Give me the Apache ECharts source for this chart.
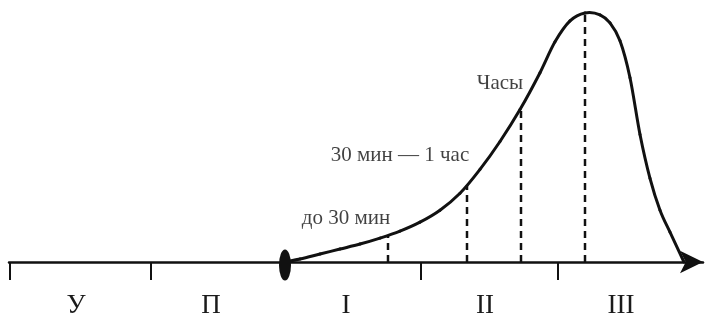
<!DOCTYPE html>
<html>
<head>
<meta charset="utf-8">
<script src="https://cdn.jsdelivr.net/npm/echarts@6/dist/echarts.min.js"></script>
<style>
  html, body { margin: 0; padding: 0; background: #fff; }
  #chart { width: 714px; height: 319px; }
</style>
</head>
<body>
<div id="chart"></div>
<script>
// кривая: положение на оси времени и высота над осью
const curveX = [285, 300, 320, 340, 360, 380, 400, 420, 440, 460, 480, 500, 520, 540, 555, 570, 585, 600, 610, 620, 630, 640, 650, 660, 670, 684];
const curveH = [0, 3, 8, 13, 18, 24, 31, 40, 52, 69, 93, 121, 153, 190, 221, 242, 250, 248, 240, 222, 185, 128, 84, 52, 30, 0];

// пунктирные вертикали
const dashX = [388, 467, 521, 585];
const dashH = [27, 77, 155, 250];

// границы стадий и подписи
const stageTicks = [10, 151, 421, 558];
const stageX = [76, 211, 346, 485, 621];
const stageNames = ['У', 'П', 'I', 'II', 'III'];

// подписи у кривой
const noteNames = ['до 30 мин', '30 мин — 1 час', 'Часы'];
const noteX = [346, 400, 500];
const noteH = [44, 107, 179];

// начало процесса
const onsetX = 285;

const serif = '"Liberation Serif", "DejaVu Serif", serif';
const ink = '#111';

const chart = echarts.init(document.getElementById('chart'), null, { renderer: 'canvas' });

// гладкая кривая (эрмитов сплайн) по точкам, переведённым в пиксели осями
const renderCurve = (params, api) => {
    if (params.dataIndex !== 0) return null;
    const p = curveX.map((x, i) => api.coord([x, curveH[i]]));
    const n = p.length;
    const slope = (a, b) => (p[b][1] - p[a][1]) / (p[b][0] - p[a][0]);
    const s = p.map((_, i) => {
        if (i === 0) return slope(0, 1);
        if (i === n - 1) return slope(n - 2, n - 1);
        return (slope(i - 1, i) + slope(i, i + 1)) / 2;
    });
    const children = [];
    for (let i = 0; i < n - 1; i++) {
        const h = (p[i + 1][0] - p[i][0]) / 3;
        children.push({
            type: 'bezierCurve',
            shape: {
                x1: p[i][0], y1: p[i][1],
                x2: p[i + 1][0], y2: p[i + 1][1],
                cpx1: p[i][0] + h, cpy1: p[i][1] + s[i] * h,
                cpx2: p[i + 1][0] - h, cpy2: p[i + 1][1] - s[i + 1] * h
            },
            style: { stroke: ink, lineWidth: 3, fill: null, lineCap: 'round' }
        });
    }
    return { type: 'group', children };
};

const dashSeries = dashX.map((x, i) => ({
    type: 'line',
    data: [[x, 0], [x, dashH[i]]],
    symbol: 'none',
    silent: true,
    lineStyle: { color: ink, width: 2.5, type: [7, 5] },
    z: 2
}));

chart.setOption({
    animation: false,
    backgroundColor: '#fff',
    grid: { left: 9, right: 11, top: 0, bottom: 56 },
    xAxis: {
        type: 'value',
        min: 9,
        max: 703,
        splitLine: { show: false },
        axisLine: {
            show: true,
            onZero: false,
            symbol: ['none', 'arrow'],
            symbolSize: [17, 23],
            lineStyle: { color: ink, width: 2.5 }
        },
        axisTick: {
            show: true,
            customValues: stageTicks,
            length: 18,
            lineStyle: { color: ink, width: 2 }
        },
        axisLabel: {
            show: true,
            customValues: stageX,
            margin: 30,
            formatter: v => stageNames[stageX.indexOf(v)] || '',
            fontFamily: serif,
            fontSize: 27,
            color: '#1a1a1a'
        }
    },
    yAxis: {
        type: 'value',
        min: 0,
        max: 263,
        show: false
    },
    series: [
        {
            type: 'custom',
            data: curveX.map((x, i) => [x, curveH[i]]),
            renderItem: renderCurve,
            clip: false,
            silent: true,
            z: 3
        },
        ...dashSeries,
        {
            type: 'scatter',
            data: [[onsetX, 0]],
            symbol: 'circle',
            symbolSize: [12, 31],
            symbolOffset: [0, 3],
            clip: false,
            itemStyle: { color: ink, opacity: 1 },
            z: 5
        },
        {
            type: 'scatter',
            data: noteX.map((x, i) => ({ value: [x, noteH[i]], name: noteNames[i] })),
            symbolSize: 1,
            itemStyle: { color: 'rgba(0,0,0,0)' },
            label: {
                show: true,
                position: 'inside',
                formatter: p => p.name,
                fontFamily: serif,
                fontSize: 21,
                color: '#111'
            },
            z: 6
        }
    ]
});
</script>
</body>
</html>
